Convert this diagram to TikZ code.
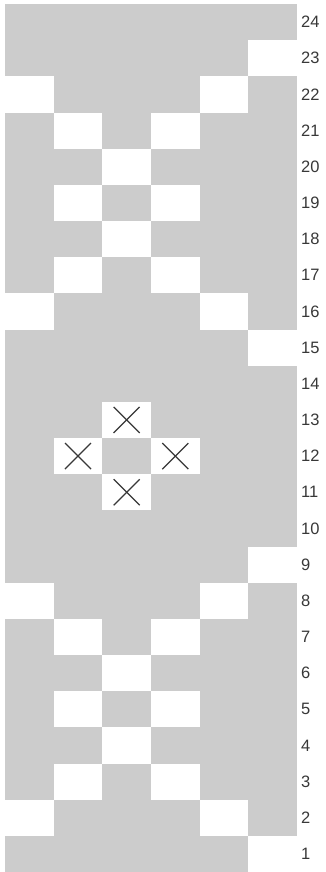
\documentclass[tikz,border=0pt]{standalone}
\usepackage{fontspec}
\setmainfont{Liberation Sans}
\definecolor{cellgray}{HTML}{CCCCCC}
\definecolor{ink}{HTML}{383838}
\begin{document}
\begin{tikzpicture}[x=1pt,y=-1pt,
  whitecell/.style={fill=white,draw=none,minimum width=48.667pt,minimum height=36.167pt,inner sep=0pt,outer sep=0pt},
  lbl/.style={anchor=west,inner sep=0pt,text=ink,font=\fontsize{16.5}{16.5}\selectfont},
  xmark/.style={draw=ink,line width=1.2pt}]
\useasboundingbox (0,0) rectangle (326,872);
\fill[cellgray] (5,4) rectangle (297,872);
\foreach \r/\c in {23/6,22/1,22/5,21/2,21/4,20/3,19/2,19/4,18/3,17/2,17/4,16/1,16/5,15/6,
                   13/3,12/2,12/4,11/3,
                   9/6,8/1,8/5,7/2,7/4,6/3,5/2,5/4,4/3,3/2,3/4,2/1,2/5,1/6}
  \node[whitecell] (w-\r-\c) at ({5+(\c-0.5)*48.667},{4+(24.5-\r)*36.167}) {};
\foreach \r/\c in {13/3,12/2,12/4,11/3}{
  \draw[xmark] ([shift={(-13,-13)}]w-\r-\c.center) -- ([shift={(13,13)}]w-\r-\c.center);
  \draw[xmark] ([shift={(-13,13)}]w-\r-\c.center) -- ([shift={(13,-13)}]w-\r-\c.center);
}
\foreach \r in {1,...,24}
  \node[lbl] (l\r) at (301,{4+(24.5-\r)*36.167}) {\r};
\end{tikzpicture}
\end{document}
